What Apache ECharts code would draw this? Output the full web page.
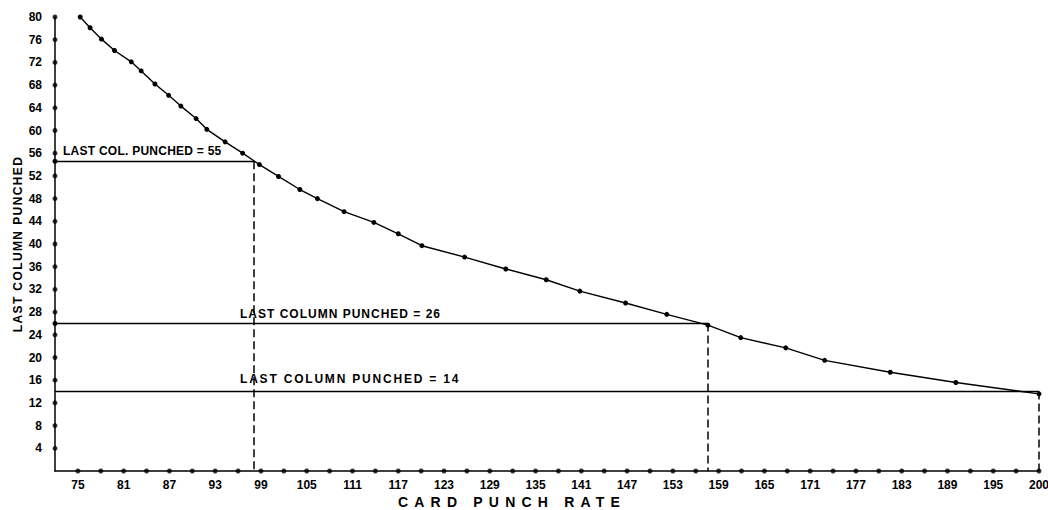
<!DOCTYPE html>
<html>
<head>
<meta charset="utf-8">
<script src="https://cdn.jsdelivr.net/npm/echarts@6/dist/echarts.min.js"></script>
<style>
html,body{margin:0;padding:0;background:#fff;}
#c{width:1048px;height:510px;}
</style>
</head>
<body>
<div id="c"></div>
<script>
// ---- data ----
const curveX = [75.3, 76.6, 78.1, 79.8, 82.0, 83.3, 85.1, 86.9, 88.5, 90.5, 91.9, 94.3, 96.6, 98.8,
                101.3, 104.1, 106.4, 109.9, 113.8, 117.0, 120.1, 125.7, 131.1, 136.4, 140.8,
                146.8, 152.2, 157.6, 161.9, 167.8, 172.9, 181.5, 190.1, 201.0];
const curveY = [80, 78.1, 76.1, 74.1, 72.1, 70.5, 68.2, 66.2, 64.3, 62.1, 60.2, 58.0, 56.0, 54.0,
                51.9, 49.6, 48.0, 45.7, 43.8, 41.8, 39.7, 37.7, 35.6, 33.7, 31.7,
                29.6, 27.6, 25.7, 23.5, 21.7, 19.5, 17.4, 15.6, 13.6];

const yTickValues = [4, 8, 12, 16, 20, 24, 28, 32, 36, 40, 44, 48, 52, 56, 60, 64, 68, 72, 76, 80];
const xDotValues = [75, 78, 81, 84, 87, 90, 93, 96, 99, 102, 105, 108, 111, 114, 117, 120, 123, 126,
                    129, 132, 135, 138, 141, 144, 147, 150, 153, 156, 159, 162, 165, 168, 171, 174,
                    177, 180, 183, 186, 189, 192, 195, 198, 201];
const xTickValues = [75, 81, 87, 93, 99, 105, 111, 117, 123, 129, 135, 141, 147, 153, 159, 165, 171, 177, 183, 189, 195, 201];
const xTickLabels = ['75', '81', '87', '93', '99', '105', '111', '117', '123', '129', '135', '141', '147',
                     '153', '159', '165', '171', '177', '183', '189', '195', '200'];

const refLineY = [54.6, 26, 14];
const refLineEndX = [98.1, 157.6, 201];
const refLabels = ['LAST COL. PUNCHED = 55', 'LAST COLUMN PUNCHED = 26', 'LAST COLUMN PUNCHED = 14'];
const refStartDot = [true, true, false];

const xAxisTitle = 'CARD PUNCH RATE';
const yAxisTitle = 'LAST COLUMN PUNCHED';

const xMin = 72, xMax = 201, yMin = 0, yMax = 80;

// ---- styles ----
const FONT = 'Liberation Sans, Arial, sans-serif';
const INK = '#000';
const labelDist = [[8, 4], [185, 3], [185, 7]];

const hLines = refLineY.map((y, i) => [
  {
    coord: [xMin, y],
    symbol: refStartDot[i] ? 'circle' : 'none',
    symbolSize: 5,
    lineStyle: { color: '#000', width: 1.3, type: 'solid' },
    label: {
      show: true, position: 'insideStartTop', distance: labelDist[i],
      formatter: refLabels[i], color: INK, fontFamily: FONT, fontSize: 12, fontWeight: 'bold'
    }
  },
  { coord: [refLineEndX[i], y], symbol: 'none' }
]);
const vLines = refLineY.map((y, i) => [
  {
    coord: [refLineEndX[i], y], symbol: 'none',
    lineStyle: { color: '#000', width: 1.5, type: [8, 4] },
    label: { show: false }
  },
  { coord: [refLineEndX[i], yMin], symbol: 'none' }
]);

const chart = echarts.init(document.getElementById('c'), null, { renderer: 'svg' });
chart.setOption({
  animation: false,
  backgroundColor: '#fff',
  grid: { left: 55, right: 9, top: 17, bottom: 39, containLabel: false, outerBoundsMode: 'none' },
  xAxis: {
    type: 'value', min: xMin, max: xMax, interval: 3,
    axisLine: { show: true, onZero: false, lineStyle: { color: '#000', width: 1.5 } },
    axisTick: { show: false },
    splitLine: { show: false },
    axisLabel: {
      margin: 8, color: INK, fontFamily: FONT, fontSize: 12, fontWeight: 'bold', hideOverlap: false,
      showMinLabel: true, showMaxLabel: true,
      formatter: v => { const i = xTickValues.indexOf(Math.round(v)); return i < 0 ? '' : xTickLabels[i]; }
    }
  },
  yAxis: {
    type: 'value', min: yMin, max: yMax, interval: 4,
    name: yAxisTitle, nameLocation: 'middle', nameGap: 31, nameMoveOverlap: false,
    nameTextStyle: { color: INK, fontFamily: FONT, fontSize: 12, fontWeight: 'bold' },
    axisLine: { show: true, onZero: false, lineStyle: { color: '#000', width: 1.5 } },
    axisTick: { show: false },
    splitLine: { show: false },
    axisLabel: {
      margin: 13, color: INK, fontFamily: FONT, fontSize: 12, fontWeight: 'bold',
      formatter: v => (yTickValues.indexOf(Math.round(v)) < 0 ? '' : String(Math.round(v)))
    }
  },
  graphic: [{
    type: 'text', x: 512, y: 502, silent: true,
    style: { text: xAxisTitle, align: 'center', textAlign: 'center', verticalAlign: 'middle',
             textVerticalAlign: 'middle', fill: INK, font: 'bold 14px ' + FONT }
  }],
  series: [
    {
      type: 'line', data: curveX.map((x, i) => [x, curveY[i]]),
      symbol: 'circle', symbolSize: 5, showSymbol: true, clip: false, z: 5,
      itemStyle: { color: '#000' },
      lineStyle: { color: '#000', width: 1.4 },
      emphasis: { disabled: true },
      markLine: { silent: true, animation: false, symbol: ['none', 'none'], data: hLines.concat(vLines) }
    },
    {
      type: 'scatter', data: yTickValues.map(v => [xMin, v]),
      symbol: 'circle', symbolSize: 5, clip: false, itemStyle: { color: '#000' }, emphasis: { disabled: true }
    },
    {
      type: 'scatter', data: xDotValues.map(v => [v, yMin]),
      symbol: 'circle', symbolSize: 5, clip: false, itemStyle: { color: '#000' }, emphasis: { disabled: true }
    }
  ]
});

// letter spacing (the original lettering is widely spaced)
const spacing = {};
spacing[xAxisTitle] = 6.2;
spacing[yAxisTitle] = 1.4;
spacing[refLabels[0]] = 0.25;
spacing[refLabels[1]] = 1.0;
spacing[refLabels[2]] = 1.8;
function applySpacing() {
  document.querySelectorAll('#c svg text').forEach(t => {
    const s = spacing[t.textContent];
    if (s != null) t.style.letterSpacing = s + 'px';
  });
}
applySpacing();
chart.on('finished', applySpacing);
setTimeout(applySpacing, 50);
</script>
</body>
</html>
